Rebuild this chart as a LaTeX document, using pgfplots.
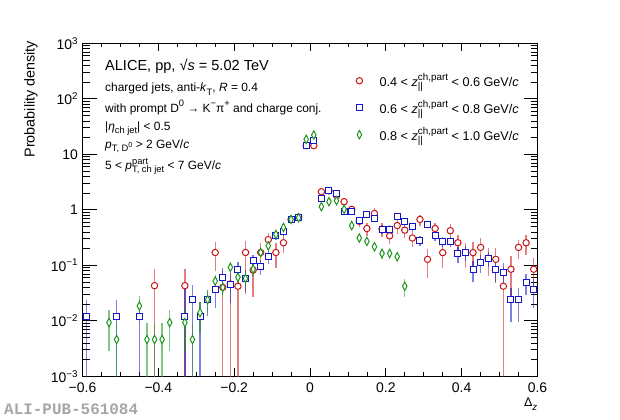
\documentclass[border=0pt]{standalone}
\usepackage{pgfplots}
\usepackage{pgfplotstable}
\pgfplotsset{compat=1.18}
\usepackage{fontspec}
\setmainfont{Liberation Sans}
\newfontfamily\monofont{Liberation Mono}
\definecolor{rred}{RGB}{200,20,20}
\definecolor{rblue}{RGB}{20,20,200}
\definecolor{rgreen}{RGB}{30,150,30}
\newcommand\sups[1]{\raisebox{0.42em}{\scalebox{0.78}{#1}}}
\newcommand\subs[1]{\raisebox{-0.28em}{\scalebox{0.78}{#1}}}
\newcommand\supsub[2]{\begingroup\setbox0\hbox{\sups{#1}}\setbox2\hbox{\subs{#2}}\ifdim\wd0>\wd2 \rlap{\box2}\box0\else\rlap{\box0}\box2\fi\endgroup}

\pgfplotstableread{
x y ep em
-0.41 0.043 0.043 0.0429
-0.33 0.043 0.043 0.0429
-0.25 0.17 0.09 0.09
-0.23 0.040 0.040 0.0399
-0.21 0.046 0.046 0.0459
-0.19 0.042 0.042 0.0419
-0.17 0.17 0.10 0.14
-0.15 0.082 0.05 0.055
-0.13 0.17 0.08 0.08
-0.11 0.29 0.10 0.10
-0.09 0.17 0.08 0.08
-0.07 0.255 0.09 0.09
-0.05 0.67 0.08 0.08
-0.03 0.74 0.08 0.08
-0.01 14.3 0.6 0.6
0.01 14.3 0.6 0.6
0.03 2.12 0.2 0.2
0.05 2.2 0.2 0.2
0.07 1.8 0.2 0.2
0.09 1.40 0.2 0.2
0.11 1.02 0.15 0.15
0.13 0.62 0.12 0.12
0.15 0.46 0.12 0.12
0.17 0.86 0.2 0.2
0.19 0.45 0.12 0.12
0.21 0.34 0.10 0.10
0.23 0.52 0.15 0.15
0.25 0.43 0.12 0.12
0.27 0.31 0.10 0.10
0.29 0.67 0.15 0.15
0.31 0.128 0.07 0.07
0.33 0.46 0.12 0.12
0.35 0.169 0.08 0.08
0.37 0.42 0.13 0.13
0.39 0.255 0.10 0.10
0.41 0.17 0.08 0.08
0.43 0.169 0.09 0.09
0.45 0.21 0.10 0.10
0.47 0.134 0.07 0.07
0.49 0.128 0.08 0.08
0.51 0.042 0.05 0.0419
0.53 0.085 0.06 0.06
0.55 0.21 0.08 0.08
0.57 0.255 0.10 0.10
0.59 0.085 0.05 0.05
}\redtab

\pgfplotstableread{
x y ep em
-0.59 0.012 0.012 0.0119
-0.51 0.012 0.012 0.0119
-0.45 0.012 0.012 0.0119
-0.33 0.012 0.028 0.0119
-0.31 0.024 0.020 0.0239
-0.29 0.012 0.010 0.0119
-0.27 0.024 0.012 0.012
-0.25 0.037 0.02 0.02
-0.23 0.061 0.03 0.03
-0.21 0.046 0.025 0.025
-0.19 0.085 0.03 0.03
-0.17 0.058 0.025 0.025
-0.15 0.121 0.035 0.035
-0.13 0.097 0.03 0.03
-0.11 0.147 0.04 0.04
-0.09 0.35 0.06 0.06
-0.07 0.40 0.06 0.06
-0.05 0.67 0.07 0.07
-0.03 0.73 0.07 0.07
-0.01 14.7 0.5 0.5
0.01 17.6 0.5 0.5
0.03 1.58 0.15 0.15
0.05 2.27 0.15 0.15
0.07 1.93 0.15 0.15
0.09 0.92 0.1 0.1
0.11 0.92 0.1 0.1
0.13 0.64 0.1 0.1
0.15 0.81 0.1 0.1
0.17 0.70 0.1 0.1
0.19 0.45 0.08 0.08
0.21 0.45 0.08 0.08
0.23 0.75 0.1 0.1
0.25 0.61 0.1 0.1
0.27 0.50 0.08 0.08
0.29 0.28 0.06 0.06
0.31 0.55 0.08 0.08
0.33 0.34 0.07 0.07
0.35 0.27 0.06 0.06
0.37 0.27 0.06 0.06
0.39 0.16 0.05 0.05
0.41 0.169 0.05 0.05
0.43 0.085 0.035 0.035
0.45 0.112 0.04 0.04
0.47 0.134 0.04 0.04
0.49 0.085 0.035 0.035
0.51 0.074 0.035 0.035
0.53 0.0244 0.015 0.015
0.55 0.0244 0.015 0.015
0.57 0.049 0.02 0.02
0.59 0.037 0.02 0.02
}\bluetab

\pgfplotstableread{
x y ep em
-0.53 0.0093 0.0065 0.0065
-0.51 0.0046 0.0046 0.00459
-0.45 0.0185 0.009 0.009
-0.43 0.0046 0.0046 0.00459
-0.41 0.0046 0.0046 0.00459
-0.39 0.0046 0.0046 0.00459
-0.37 0.0093 0.0065 0.0065
-0.33 0.0093 0.0065 0.0065
-0.31 0.0046 0.0046 0.00459
-0.29 0.014 0.008 0.008
-0.27 0.024 0.010 0.010
-0.25 0.052 0.015 0.015
-0.23 0.040 0.013 0.013
-0.21 0.092 0.020 0.020
-0.19 0.061 0.018 0.018
-0.17 0.058 0.018 0.018
-0.15 0.085 0.020 0.020
-0.13 0.17 0.03 0.03
-0.11 0.225 0.035 0.035
-0.09 0.36 0.045 0.045
-0.07 0.48 0.05 0.05
-0.05 0.67 0.06 0.06
-0.03 0.72 0.06 0.06
-0.01 18.6 0.5 0.5
0.01 22.3 0.5 0.5
0.03 1.14 0.1 0.1
0.05 1.40 0.1 0.1
0.07 1.46 0.1 0.1
0.09 1.02 0.09 0.09
0.11 0.52 0.06 0.06
0.13 0.31 0.05 0.05
0.15 0.27 0.04 0.04
0.17 0.216 0.04 0.04
0.19 0.164 0.035 0.035
0.21 0.164 0.035 0.035
0.23 0.143 0.03 0.03
0.25 0.042 0.015 0.015
}\greentab

\begin{document}
\begin{tikzpicture}[x=1bp,y=1bp]
\path[use as bounding box] (0,0) rectangle (620,419);
\begin{axis}[
  at={(82.5bp,42.7bp)}, anchor=south west,
  scale only axis, width=455bp, height=333bp,
  ymode=log,
  xmin=-0.6, xmax=0.6, ymin=1e-3, ymax=1e3,
  axis line style={line width=0.8bp},
  tick align=inside, tick pos=both,
  major tick length=14bp, minor tick length=7bp,
  xtick style={/pgfplots/major tick length=8bp,/pgfplots/minor tick length=4bp},
  every tick/.style={black, line width=0.7bp},
  xtick={-0.6,-0.4,-0.2,0,0.2,0.4,0.6},
  xticklabels={−0.6,−0.4,−0.2,0,0.2,0.4,0.6},
  minor x tick num=3,
  ytick={1e-3,1e-2,1e-1,1,10,100,1000},
  yticklabels={10\textsuperscript{−3},10\textsuperscript{−2},10\textsuperscript{−1},1,10,10\textsuperscript{2},10\textsuperscript{3}},
  tick label style={font=\fontsize{14}{16}\selectfont},
  yticklabel style={anchor=east, xshift=-1bp},
  xticklabel style={yshift=-2.5bp},
  legend cell align=left,
  legend style={at={(0.5945,0.921)}, anchor=north west, draw=none, fill=none,
    font=\fontsize{12.7}{14}\selectfont, row sep=9bp},
  error bars/error bar style={line width=1.3bp, draw opacity=0.55},
  error bars/error mark=none,
]
\addplot[only marks, color=rred, mark=*, mark size=3.2bp, mark options={fill=white, line width=1bp},
  error bars/.cd, y dir=both, y explicit]
  table[x=x, y=y, y error plus=ep, y error minus=em] {\redtab};
\addlegendentry{\hspace{15bp}0.4 {\textless} \textit{z}\supsub{ch,part}{||} {\textless} 0.6 GeV/\textit{c}}
\addplot[only marks, color=rblue, mark=square*, mark size=3bp, mark options={fill=white, line width=1bp},
  error bars/.cd, y dir=both, y explicit]
  table[x=x, y=y, y error plus=ep, y error minus=em] {\bluetab};
\addlegendentry{\hspace{15bp}0.6 {\textless} \textit{z}\supsub{ch,part}{||} {\textless} 0.8 GeV/\textit{c}}
\addplot[only marks, color=rgreen, mark=diamond*, mark size=4.2bp, mark options={fill=white, line width=1bp, xscale=0.72},
  error bars/.cd, y dir=both, y explicit]
  table[x=x, y=y, y error plus=ep, y error minus=em] {\greentab};
\addlegendentry{\hspace{15bp}0.8 {\textless} \textit{z}\supsub{ch,part}{||} {\textless} 1.0 GeV/\textit{c}}
\end{axis}
\node[anchor=base west, inner sep=0, font=\fontsize{14.6}{17}\selectfont] at (105,349) {ALICE, pp, √\textit{s} = 5.02 TeV};
\node[anchor=base west, inner sep=0, font=\fontsize{12}{14}\selectfont] at (105,327.3) {charged jets, anti-\textit{k}\subs{T}, \textit{R} = 0.4};
\node[anchor=base west, inner sep=0, font=\fontsize{12}{14}\selectfont] at (105,307) {with prompt D\sups{0} → K\sups{−}π\sups{+} and charge conj.};
\node[anchor=base west, inner sep=0, font=\fontsize{12}{14}\selectfont] at (105,289) {|\textit{η}\subs{ch jet}| {\textless} 0.5};
\node[anchor=base west, inner sep=0, font=\fontsize{12}{14}\selectfont] at (105,270.7) {\textit{p}\subs{T, D\sups{0}} {\textgreater} 2 GeV/\textit{c}};
\node[anchor=base west, inner sep=0, font=\fontsize{12}{14}\selectfont] at (105,249.7) {5 {\textless} \textit{p}\supsub{part}{T, ch jet} {\textless} 7 GeV/\textit{c}};
\node[anchor=north, inner sep=0, rotate=90, font=\fontsize{14.4}{16}\selectfont] at (24,378) {\makebox[0pt][r]{Probability density}};
\node[anchor=base east, inner sep=0, font=\fontsize{12.5}{15}\selectfont] at (537.5,12.3) {Δ\subs{\textit{z}}};
\node[anchor=base west, inner sep=0, text=black!35, font=\monofont\bfseries\fontsize{16}{17}\selectfont] at (4,5) {ALI-PUB-561084};
\end{tikzpicture}
\end{document}
